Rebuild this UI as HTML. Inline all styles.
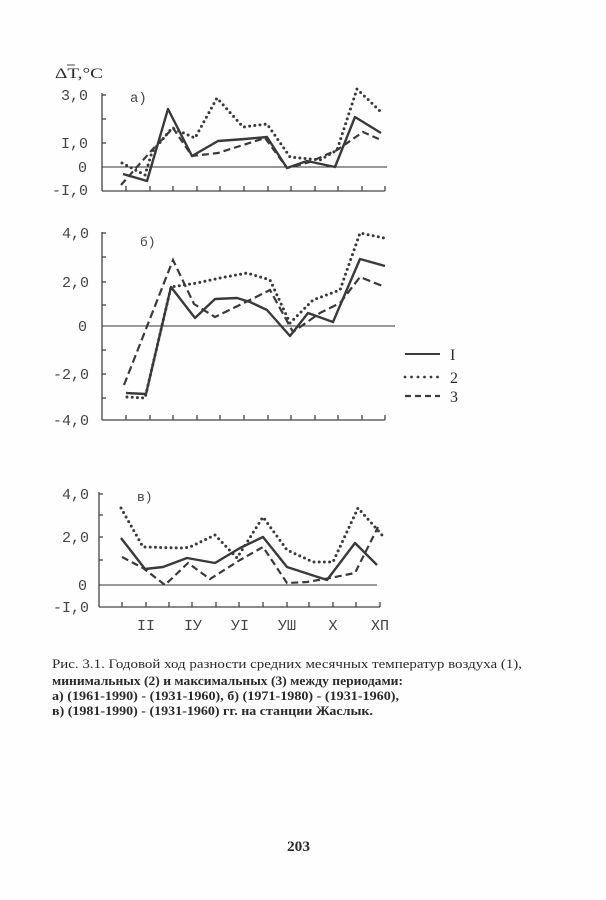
<!DOCTYPE html>
<html>
<head>
<meta charset="utf-8">
<style>
  html,body{margin:0;padding:0;background:#fefefe;}
  svg{display:block;}
  .mono{font-family:"Liberation Mono","DejaVu Sans Mono",monospace;fill:#444;}
  .serif{font-family:"Liberation Serif","DejaVu Serif",serif;fill:#2a2a2a;}
</style>
</head>
<body>
<svg width="606" height="900" viewBox="0 0 606 900" xmlns="http://www.w3.org/2000/svg">
  <rect width="606" height="900" fill="#fefefe"/>

  <!-- ΔT label -->
  <text class="serif" x="55" y="78" font-size="15" textLength="48" lengthAdjust="spacingAndGlyphs" fill="#333">ΔT,°C</text>
  <line x1="67" y1="65" x2="75" y2="65" stroke="#444" stroke-width="1"/>

  <!-- ===== Panel a ===== -->
  <g stroke="#444" stroke-width="1.3" fill="none">
    <line x1="102" y1="93" x2="102" y2="191"/>
    <line x1="102" y1="191" x2="385" y2="191"/>
    <line x1="102" y1="95" x2="106" y2="95"/>
    <line x1="102" y1="119" x2="106" y2="119"/>
    <line x1="102" y1="143" x2="106" y2="143"/>
    <line x1="126" y1="186" x2="126" y2="191"/><line x1="150" y1="186" x2="150" y2="191"/>
    <line x1="173" y1="186" x2="173" y2="191"/><line x1="197" y1="186" x2="197" y2="191"/>
    <line x1="220" y1="186" x2="220" y2="191"/><line x1="244" y1="186" x2="244" y2="191"/>
    <line x1="268" y1="186" x2="268" y2="191"/><line x1="291" y1="186" x2="291" y2="191"/>
    <line x1="315" y1="186" x2="315" y2="191"/><line x1="338" y1="186" x2="338" y2="191"/>
    <line x1="362" y1="186" x2="362" y2="191"/><line x1="385" y1="186" x2="385" y2="191"/>
  </g>
  <line x1="102" y1="167" x2="387" y2="167" stroke="#333" stroke-width="1"/>
  <text class="mono" x="88" y="100" font-size="15" text-anchor="end">3,0</text>
  <text class="mono" x="88" y="148" font-size="15" text-anchor="end">I,0</text>
  <text class="mono" x="87" y="172" font-size="15" text-anchor="end">0</text>
  <text class="mono" x="88" y="195" font-size="15" text-anchor="end">-I,0</text>
  <text class="mono" x="130" y="102" font-size="14">a)</text>
  <polyline fill="none" stroke="#3a3a3a" stroke-width="2.4" stroke-linejoin="round"
    points="123,174 147,181 168,109 192,156 218,141 245,139 267,137 287,168 307,161 335,167 355,117 381,133"/>
  <polyline fill="none" stroke="#3a3a3a" stroke-width="3" stroke-linecap="round" stroke-dasharray="0 5.2"
    points="122,163 145,175 152,152 172,128 195,138 217,98 243,127 267,124 290,157 320,160 337,150 357,89 381,112"/>
  <polyline fill="none" stroke="#3a3a3a" stroke-width="2.2" stroke-dasharray="7 4"
    points="121,185 152,150 173,128 192,156 218,153 243,145 265,138 287,168 310,162 337,150 363,132 381,140"/>

  <!-- ===== Panel b ===== -->
  <g stroke="#444" stroke-width="1.3" fill="none">
    <line x1="102" y1="232" x2="102" y2="420"/>
    <line x1="102" y1="420" x2="385" y2="420"/>
    <line x1="102" y1="233" x2="106" y2="233"/>
    <line x1="102" y1="257" x2="106" y2="257"/>
    <line x1="102" y1="282" x2="106" y2="282"/>
    <line x1="102" y1="305" x2="106" y2="305"/>
    <line x1="102" y1="350" x2="106" y2="350"/>
    <line x1="102" y1="374" x2="106" y2="374"/>
    <line x1="102" y1="398" x2="106" y2="398"/>
    <line x1="126" y1="415" x2="126" y2="420"/><line x1="150" y1="415" x2="150" y2="420"/>
    <line x1="173" y1="415" x2="173" y2="420"/><line x1="197" y1="415" x2="197" y2="420"/>
    <line x1="220" y1="415" x2="220" y2="420"/><line x1="244" y1="415" x2="244" y2="420"/>
    <line x1="268" y1="415" x2="268" y2="420"/><line x1="291" y1="415" x2="291" y2="420"/>
    <line x1="315" y1="415" x2="315" y2="420"/><line x1="338" y1="415" x2="338" y2="420"/>
    <line x1="362" y1="415" x2="362" y2="420"/><line x1="385" y1="415" x2="385" y2="420"/>
  </g>
  <line x1="102" y1="326" x2="395" y2="326" stroke="#333" stroke-width="1"/>
  <text class="mono" x="89" y="238" font-size="15" text-anchor="end">4,0</text>
  <text class="mono" x="89" y="287" font-size="15" text-anchor="end">2,0</text>
  <text class="mono" x="87" y="331" font-size="15" text-anchor="end">0</text>
  <text class="mono" x="89" y="379" font-size="15" text-anchor="end">-2,0</text>
  <text class="mono" x="89" y="425" font-size="15" text-anchor="end">-4,0</text>
  <text class="mono" x="140" y="246" font-size="13" fill="#777">б)</text>
  <polyline fill="none" stroke="#3a3a3a" stroke-width="2.4" stroke-linejoin="round"
    points="126,393 146,394 171,287 195,318 215,299 237,298 250,302 267,310 290,336 308,313 333,322 360,259 385,266"/>
  <polyline fill="none" stroke="#3a3a3a" stroke-width="3" stroke-linecap="round" stroke-dasharray="0 5.2"
    points="127,397 145,398 171,287 197,283 220,278 247,273 270,280 290,323 313,300 340,290 360,233 384,238"/>
  <polyline fill="none" stroke="#3a3a3a" stroke-width="2.2" stroke-dasharray="8 4"
    points="124,385 173,260 194,304 215,317 250,300 270,290 293,332 320,313 340,303 360,277 385,287"/>

  <!-- Legend -->
  <line x1="405" y1="354" x2="440" y2="354" stroke="#3a3a3a" stroke-width="2"/>
  <line x1="405" y1="377" x2="440" y2="377" stroke="#3a3a3a" stroke-width="2.8" stroke-linecap="round" stroke-dasharray="0 6.5"/>
  <line x1="405" y1="396" x2="440" y2="396" stroke="#3a3a3a" stroke-width="2.2" stroke-dasharray="6 4"/>
  <text class="serif" x="450" y="360" font-size="16" fill="#444">I</text>
  <text class="serif" x="450" y="383" font-size="16" fill="#444">2</text>
  <text class="serif" x="450" y="402" font-size="16" fill="#444">3</text>

  <!-- ===== Panel c ===== -->
  <g stroke="#444" stroke-width="1.3" fill="none">
    <line x1="99" y1="492" x2="99" y2="607"/>
    <line x1="99" y1="607" x2="380" y2="607"/>
    <line x1="99" y1="494" x2="103" y2="494"/>
    <line x1="99" y1="515" x2="103" y2="515"/>
    <line x1="99" y1="537" x2="103" y2="537"/>
    <line x1="99" y1="560" x2="103" y2="560"/>
    <line x1="122" y1="602" x2="122" y2="607"/><line x1="146" y1="602" x2="146" y2="607"/>
    <line x1="169" y1="602" x2="169" y2="607"/><line x1="192" y1="602" x2="192" y2="607"/>
    <line x1="216" y1="602" x2="216" y2="607"/><line x1="239" y1="602" x2="239" y2="607"/>
    <line x1="263" y1="602" x2="263" y2="607"/><line x1="287" y1="602" x2="287" y2="607"/>
    <line x1="309" y1="602" x2="309" y2="607"/><line x1="333" y1="602" x2="333" y2="607"/>
    <line x1="356" y1="602" x2="356" y2="607"/><line x1="380" y1="602" x2="380" y2="607"/>
  </g>
  <line x1="99" y1="585" x2="377" y2="585" stroke="#333" stroke-width="1"/>
  <text class="mono" x="89" y="499" font-size="15" text-anchor="end">4,0</text>
  <text class="mono" x="89" y="542" font-size="15" text-anchor="end">2,0</text>
  <text class="mono" x="87" y="590" font-size="15" text-anchor="end">0</text>
  <text class="mono" x="89" y="612" font-size="15" text-anchor="end">-I,0</text>
  <text class="mono" x="137" y="501" font-size="13" fill="#555">в)</text>
  <polyline fill="none" stroke="#3a3a3a" stroke-width="2.4" stroke-linejoin="round"
    points="121,538 145,569 163,567 187,558 215,563 240,548 263,537 287,567 327,580 355,543 377,565"/>
  <polyline fill="none" stroke="#3a3a3a" stroke-width="3" stroke-linecap="round" stroke-dasharray="0 5.2"
    points="121,508 143,547 183,548 190,547 215,535 237,558 263,517 287,550 313,562 333,562 358,508 382,535"/>
  <polyline fill="none" stroke="#3a3a3a" stroke-width="2.2" stroke-dasharray="7 4"
    points="122,557 143,568 165,585 188,563 210,579 240,560 263,547 287,583 307,582 330,578 355,573 378,527"/>

  <!-- X labels -->
  <g class="mono" font-size="15" text-anchor="middle">
    <text x="146" y="630">II</text>
    <text x="193" y="630">IУ</text>
    <text x="240" y="630">УI</text>
    <text x="287" y="630">УШ</text>
    <text x="333" y="630">X</text>
    <text x="380" y="630">XП</text>
  </g>

  <!-- Caption -->
  <text class="serif" x="52" y="668" font-size="13" textLength="470" lengthAdjust="spacingAndGlyphs">Рис. 3.1. Годовой ход разности средних месячных температур воздуха (1),</text>
  <text class="serif" x="52" y="685" font-size="13" font-weight="bold" textLength="351" lengthAdjust="spacingAndGlyphs">минимальных (2) и максимальных (3) между периодами:</text>
  <text class="serif" x="52" y="700" font-size="13" font-weight="bold" textLength="347" lengthAdjust="spacingAndGlyphs">а) (1961-1990) - (1931-1960), б) (1971-1980) - (1931-1960),</text>
  <text class="serif" x="52" y="715" font-size="13" font-weight="bold" textLength="321" lengthAdjust="spacingAndGlyphs">в) (1981-1990) - (1931-1960) гг. на станции Жаслык.</text>

  <!-- Page number -->
  <text class="serif" x="287" y="851" font-size="15" font-weight="bold" textLength="23" lengthAdjust="spacingAndGlyphs" fill="#222">203</text>
</svg>
</body>
</html>
